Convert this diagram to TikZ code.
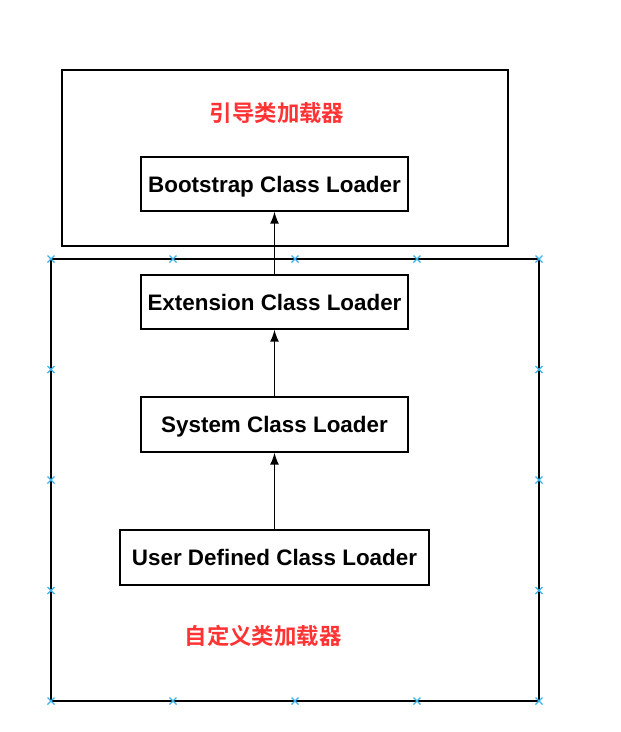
\documentclass[tikz,border=0pt]{standalone}
\usepackage{fontspec}
\usetikzlibrary{arrows.meta}
\setmainfont{Liberation Sans}
\newfontfamily\cjk{Noto Sans CJK SC}[BoldFont={* Bold}]
\definecolor{lblred}{HTML}{FF3333}
\definecolor{mkblue}{HTML}{3BB2E8}
\begin{document}
\begin{tikzpicture}[x=1pt,y=-1pt,
  box/.style={draw=black,line width=1.3pt,rectangle,inner sep=0pt,text height=16pt,text depth=0pt,font=\fontsize{22.4}{24}\selectfont\bfseries},
  frame/.style={draw=black,line width=1.3pt},
  lbl/.style={text=lblred,font=\cjk\fontsize{22.4}{24}\selectfont\bfseries,inner sep=0pt},
  arr/.style={draw=black,line width=1.5pt,-{Latex[length=12pt,width=9pt]}},
  mk/.style={draw=mkblue,line width=1.3pt}]
\useasboundingbox (0,0) rectangle (621,732);
\node[frame,rectangle,inner sep=0pt,minimum width=446pt,minimum height=176pt] (outer) at (285,158) {};
\node[lbl] (l1) at (277,113) {引导类加载器};
\node[box,minimum width=267pt,minimum height=54pt] (boot) at (274.5,184) {Bootstrap Class Loader};
\node[frame,rectangle,inner sep=0pt,minimum width=488pt,minimum height=442pt] (inner) at (295,480) {};
\node[box,minimum width=267pt,minimum height=54pt] (ext) at (274.5,302) {Extension Class Loader};
\node[box,minimum width=267pt,minimum height=55pt] (sys) at (274.5,424.5) {System Class Loader};
\node[box,minimum width=309pt,minimum height=55pt] (usr) at (274.5,557.5) {User Defined Class Loader};
\node[lbl] (l2) at (263,636) {自定义类加载器};
\draw[arr] (usr.north) -- (sys.south);
\draw[arr] (sys.north) -- (ext.south);
\draw[arr] (ext.north) -- (boot.south);
\foreach \px/\py in {51/259,173/259,295/259,417/259,539/259,
                     51/701,173/701,295/701,417/701,539/701,
                     51/369.5,51/480,51/590.5,539/369.5,539/480,539/590.5}{
  \draw[mk] (\px-3.5,\py-3.5) -- (\px+3.5,\py+3.5) (\px-3.5,\py+3.5) -- (\px+3.5,\py-3.5);
}
\end{tikzpicture}
\end{document}
